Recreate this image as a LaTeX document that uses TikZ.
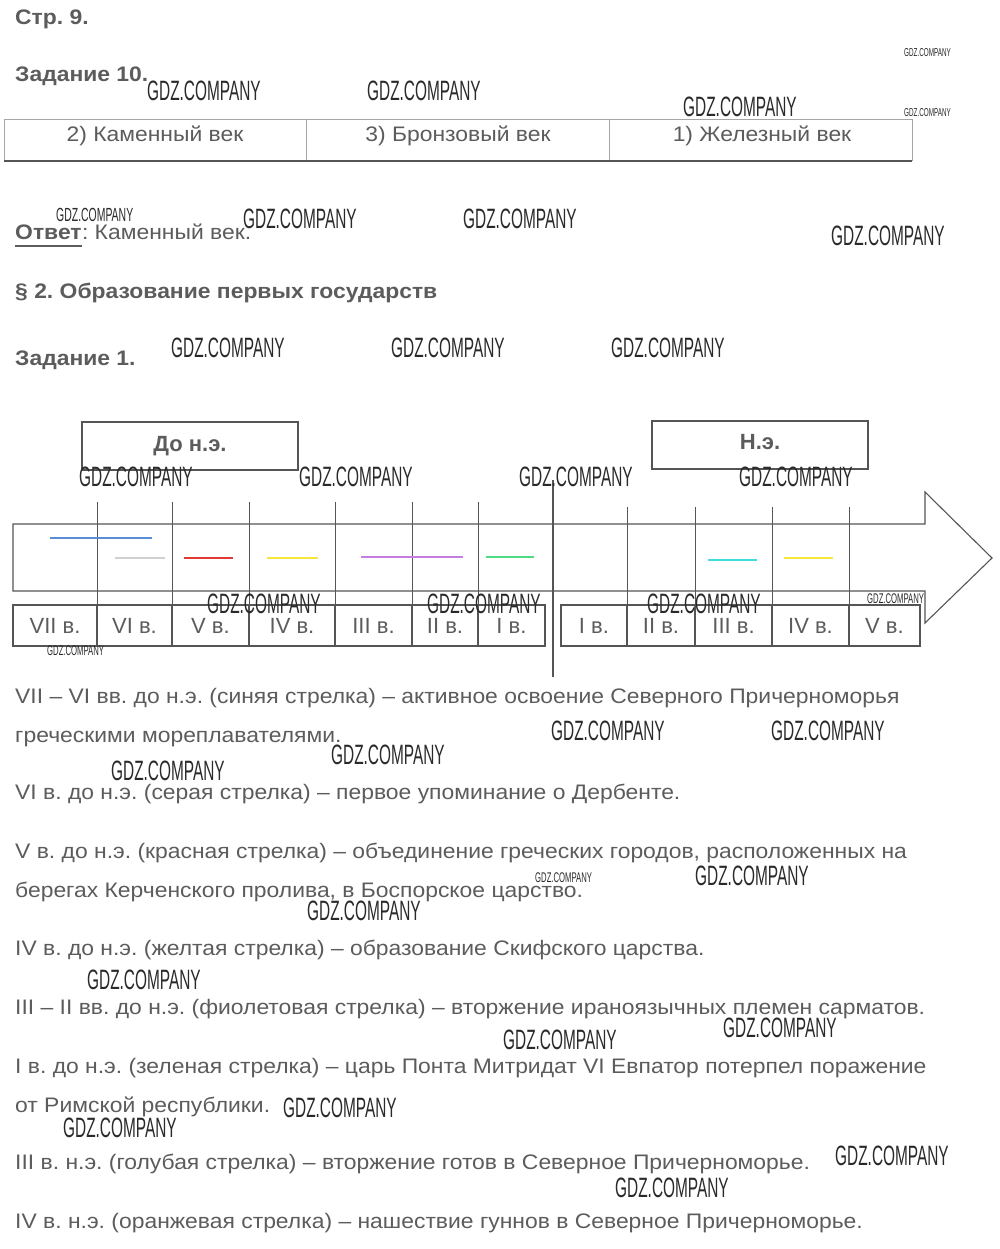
\documentclass[tikz,border=0pt]{standalone}
\usepackage{fontspec}
\setmainfont{Liberation Sans}
\newfontfamily\bodyfont[FakeStretch=1.09]{Liberation Sans}
\newfontfamily\wmfont[FakeStretch=0.55]{Liberation Sans}
\definecolor{txtc}{HTML}{5C5C5C}
\definecolor{linec}{HTML}{555555}
\definecolor{cblue}{HTML}{5B8DD6}
\definecolor{cgray}{HTML}{D0D0D0}
\definecolor{cred}{HTML}{E23B36}
\definecolor{cyellow}{HTML}{F4E63A}
\definecolor{cviolet}{HTML}{C47EE0}
\definecolor{cgreen}{HTML}{4FDC84}
\definecolor{ccyan}{HTML}{3EDDE0}
\definecolor{wmc}{HTML}{2A2A2A}
\frenchspacing
\begin{document}
\begin{tikzpicture}[x=1pt,y=-1pt,
  txt/.style={anchor=base west,inner sep=0pt,text=txtc,font=\bodyfont\fontsize{21}{25}\selectfont},
  hd/.style={anchor=base west,inner sep=0pt,text=txtc,font=\bodyfont\bfseries\fontsize{21}{25}\selectfont},
  cellt/.style={anchor=base,inner sep=0pt,text=txtc,font=\bodyfont\fontsize{21}{25}\selectfont},
  cent/.style={anchor=base,inner sep=0pt,text=txtc,font=\fontsize{22}{26}\selectfont},
  era/.style={anchor=base,inner sep=0pt,text=txtc,font=\bfseries\fontsize{22}{26}\selectfont},
  lc/.style={draw=linec,line width=1.1pt},
  tickl/.style={draw=linec,line width=1pt},
  cmark/.style={line width=2.6pt},
  wmb/.style={anchor=base west,inner sep=0pt,text=wmc,font=\wmfont\fontsize{28}{30}\selectfont},
  wmm/.style={anchor=base west,inner sep=0pt,text=wmc,font=\wmfont\fontsize{19}{21}\selectfont},
  wms/.style={anchor=base west,inner sep=0pt,text=wmc,font=\wmfont\fontsize{14}{16}\selectfont},
  wmt/.style={anchor=base west,inner sep=0pt,text=wmc,font=\wmfont\fontsize{11.5}{13}\selectfont}]
\useasboundingbox[fill=white] (0,0) rectangle (1000,1249);

% headings
\node[hd] (p9) at (15,25) {Стр. 9.};
\node[hd] (z10) at (15,82) {Задание 10.};

% table
\draw[draw=gray!70,line width=1pt] (4,120) rectangle (912,161);
\draw[draw=gray!70,line width=1pt] (306,120) -- (306,161);
\draw[draw=gray!70,line width=1pt] (609,120) -- (609,161);
\draw[draw=linec,line width=1.2pt] (4,161) -- (912,161);
\node[cellt] (c1) at (155,142) {2) Каменный век};
\node[cellt] (c2) at (458,142) {3) Бронзовый век};
\node[cellt] (c3) at (762,142) {1) Железный век};

% answer
\node[hd] (otv) at (15,240) {Ответ};
\node[txt] (otvt) at (otv.base east) {: Каменный век.};
\draw[draw=txtc,line width=2pt] ([yshift=-6pt]otv.base west) -- ([yshift=-6pt]otv.base east);

\node[hd] (sec) at (15,298) {§ 2. Образование первых государств};
\node[hd] (z1) at (15,365) {Задание 1.};

% era boxes
\draw[lc] (82,422) rectangle (298,470);
\node[era] (bc) at (190,451) {До н.э.};
\draw[lc] (652,421) rectangle (868,469);
\node[era] (ad) at (760,449) {Н.э.};

% arrow body
\draw[lc] (13,524) -- (925,524) -- (925,492) -- (992,558) -- (925,623) -- (925,591) -- (13,591) -- cycle;

% century boxes
\foreach \xa/\xb/\lab [count=\i] in {13/97/VII,97/172/VI,172/249/V,249/335/IV,335/412/III,412/478/II,478/545/I} {
  \draw[lc] (\xa,605) rectangle (\xb,646);
  \node[cent] (bcc\i) at ({(\xa+\xb)/2},633) {\lab\ в.};
}
\foreach \xa/\xb/\lab [count=\i] in {561/627/I,627/695/II,695/772/III,772/849/IV,849/920/V} {
  \draw[lc] (\xa,605) rectangle (\xb,646);
  \node[cent] (adc\i) at ({(\xa+\xb)/2},633) {\lab\ в.};
}

% ticks
\foreach \x in {97,172,249,335,412,478} { \draw[tickl] (\x,502) -- (\x,646); }
\foreach \x in {627,695,772,849} { \draw[tickl] (\x,507) -- (\x,646); }
\draw[draw=linec,line width=2.2pt] (553,480) -- (553,677);

% coloured marks
\draw[cmark,cblue] (50,538) -- (152,538);
\draw[cmark,cgray] (115,558) -- (165,558);
\draw[cmark,cred] (184,558) -- (233,558);
\draw[cmark,cyellow] (267,558) -- (318,558);
\draw[cmark,cviolet] (361,557) -- (463,557);
\draw[cmark,cgreen] (486,557) -- (534,557);
\draw[cmark,ccyan] (708,560) -- (757,560);
\draw[cmark,cyellow] (784,558) -- (833,558);

% explanations
\node[txt] (l1) at (15,703) {VII – VI вв. до н.э. (синяя стрелка) – активное освоение Северного Причерноморья};
\node[txt] (l2) at (15,742) {греческими мореплавателями.};
\node[txt] (l3) at (15,799) {VI в. до н.э. (серая стрелка) – первое упоминание о Дербенте.};
\node[txt] (l4) at (15,858) {V в. до н.э. (красная стрелка) – объединение греческих городов, расположенных на};
\node[txt] (l5) at (15,897) {берегах Керченского пролива, в Боспорское царство.};
\node[txt] (l6) at (15,955) {IV в. до н.э. (желтая стрелка) – образование Скифского царства.};
\node[txt] (l7) at (15,1014) {III – II вв. до н.э. (фиолетовая стрелка) – вторжение ираноязычных племен сарматов.};
\node[txt] (l8) at (15,1073) {I в. до н.э. (зеленая стрелка) – царь Понта Митридат VI Евпатор потерпел поражение};
\node[txt] (l9) at (15,1112) {от Римской республики.};
\node[txt] (l10) at (15,1169) {III в. н.э. (голубая стрелка) – вторжение готов в Северное Причерноморье.};
\node[txt] (l11) at (15,1228) {IV в. н.э. (оранжевая стрелка) – нашествие гуннов в Северное Причерноморье.};

% watermarks
\node[wmt] (w1) at (904,57) {GDZ.COMPANY};
\node[wmb] (w2) at (147,101) {GDZ.COMPANY};
\node[wmb] (w3) at (367,101) {GDZ.COMPANY};
\node[wmb] (w4) at (683,117) {GDZ.COMPANY};
\node[wmt] (w5) at (904,117) {GDZ.COMPANY};
\node[wmm] (w6) at (56,222) {GDZ.COMPANY};
\node[wmb] (w7) at (243,229) {GDZ.COMPANY};
\node[wmb] (w8) at (463,229) {GDZ.COMPANY};
\node[wmb] (w9) at (831,245) {GDZ.COMPANY};
\node[wmb] (w10) at (171,357) {GDZ.COMPANY};
\node[wmb] (w11) at (391,357) {GDZ.COMPANY};
\node[wmb] (w12) at (611,357) {GDZ.COMPANY};
\node[wmb] (w13) at (79,486) {GDZ.COMPANY};
\node[wmb] (w14) at (299,486) {GDZ.COMPANY};
\node[wmb] (w15) at (519,486) {GDZ.COMPANY};
\node[wmb] (w16) at (739,486) {GDZ.COMPANY};
\node[wmb] (w17) at (207,613) {GDZ.COMPANY};
\node[wmb] (w18) at (427,613) {GDZ.COMPANY};
\node[wmb] (w19) at (647,613) {GDZ.COMPANY};
\node[wms] (w20) at (867,603) {GDZ.COMPANY};
\node[wms] (w21) at (47,655) {GDZ.COMPANY};
\node[wmb] (w22) at (551,740) {GDZ.COMPANY};
\node[wmb] (w23) at (771,740) {GDZ.COMPANY};
\node[wmb] (w24) at (331,764) {GDZ.COMPANY};
\node[wmb] (w25) at (111,780) {GDZ.COMPANY};
\node[wms] (w26) at (535,882) {GDZ.COMPANY};
\node[wmb] (w27) at (695,885) {GDZ.COMPANY};
\node[wmb] (w28) at (307,920) {GDZ.COMPANY};
\node[wmb] (w29) at (87,989) {GDZ.COMPANY};
\node[wmb] (w30) at (723,1037) {GDZ.COMPANY};
\node[wmb] (w31) at (503,1049) {GDZ.COMPANY};
\node[wmb] (w32) at (283,1117) {GDZ.COMPANY};
\node[wmb] (w33) at (63,1137) {GDZ.COMPANY};
\node[wmb] (w34) at (835,1165) {GDZ.COMPANY};
\node[wmb] (w35) at (615,1197) {GDZ.COMPANY};
\end{tikzpicture}
\end{document}
